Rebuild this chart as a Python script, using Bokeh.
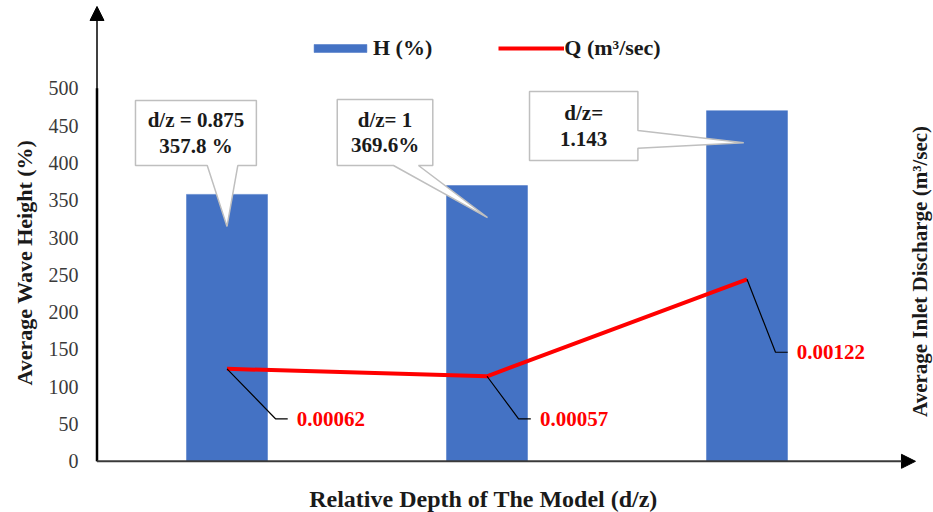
import numpy as np
from bokeh.plotting import figure
from bokeh.models import (Range1d, FixedTicker, Arrow, NormalHead, Legend,
                          LegendItem, ColumnDataSource, Title)
from bokeh.core.properties import value
from bokeh.embed import file_html
from bokeh.resources import INLINE

# ---------------- data ----------------
dz_labels = ["0.875", "1", "1.143"]            # relative depth d/z
wave_height = [357.8, 369.6, 470.0]            # H (%)
discharge = [0.00062, 0.00057, 0.00122]        # Q (m3/sec)
h_ticks = [0, 50, 100, 150, 200, 250, 300, 350, 400, 450, 500]
h_max = 500          # top tick of the wave-height axis
q_max = 0.0025       # discharge value aligned with h_max on the secondary scale

# ---------------- style ----------------
FONT = "Liberation Serif"
BLUE = "#4472C4"
RED = "#FF0000"
TEXT = "#1a1a1a"

x = list(range(len(dz_labels)))
q_scale = q_max / h_max

y_start, y_end = -68.63, 617.7
p = figure(width=933, height=512, output_backend="svg", toolbar_location=None,
           x_range=Range1d(-0.5327, 2.7173), y_range=Range1d(y_start, y_end),
           x_axis_location=None,
           min_border_left=88, min_border_right=0, min_border_top=0,
           min_border_bottom=0)
p.extra_y_ranges = {"q": Range1d(y_start * q_scale, y_end * q_scale)}
p.outline_line_color = None
p.grid.visible = False
p.background_fill_color = "white"

# left axis: tick labels only
yax = p.yaxis[0]
yax.ticker = FixedTicker(ticks=h_ticks)
yax.axis_line_color = None
yax.major_tick_line_color = None
yax.minor_tick_line_color = None
yax.major_tick_out = 0
yax.major_label_standoff = 10
yax.major_label_text_font = FONT
yax.major_label_text_font_size = "20px"
yax.major_label_text_color = "#3a3a3a"

# primary axis title
p.add_layout(Title(text="Average Wave Height (%)", align="left", offset=127,
                   text_font=FONT, text_font_style="bold",
                   text_font_size="22px", text_color=TEXT, standoff=17), "left")

# bars and discharge line
src = ColumnDataSource(dict(x=x, h=wave_height, q=discharge))
r_bar = p.vbar(x="x", top="h", bottom=0, width=0.3115, source=src,
               fill_color=BLUE, line_color=BLUE, line_width=0.5)
r_line = p.line(x="x", y="q", source=src, y_range_name="q",
                line_color=RED, line_width=4, line_join="round")

# leader lines and value labels for the discharge points
elbow_dx = [0.1865, 0.1215, 0.1096]
elbow_q = [0.000285, 0.000285, 0.000731]
lead_xs, lead_ys, lab_x = [], [], []
for i, q in enumerate(discharge):
    ex = x[i] + elbow_dx[i]
    lead_xs.append([x[i], ex, ex + 0.047])
    lead_ys.append([q, elbow_q[i], elbow_q[i]])
    lab_x.append(ex + 0.082)
p.multi_line(xs=lead_xs, ys=lead_ys, y_range_name="q",
             line_color="black", line_width=1.2)
p.text(x=lab_x, y=elbow_q, text=[f"{q:.5f}" for q in discharge],
       y_range_name="q", text_align="left", text_baseline="middle",
       text_font=value(FONT), text_font_style="bold", text_font_size="21px",
       text_color=RED)

# callout boxes pointing into the bars
callout_text = [f"d/z = {dz_labels[0]}\n{wave_height[0]} %",
                f"d/z= {dz_labels[1]}\n{wave_height[1]}%",
                f"d/z=\n{dz_labels[2]}"]
# (left, right, bottom, top) relative to the bar, pointer side and base, tip shift
boxes = [((-0.352, 0.113, 396.5, 483.6), "bottom", (-0.076, 0.0415), 0.0),
         ((-0.576, -0.2085, 396.5, 485.0), "bottom", (-0.3596, -0.2635), 0.002),
         ((-0.8365, -0.4196, 403.2, 495.7), "right", (419.7, 443.4), -0.0124)]
tip_depth = 43
pxs, pys, tx, ty = [], [], [], []
for i, (box, side, base, tip_dx) in enumerate(boxes):
    l, r, b, t = box
    l += x[i]; r += x[i]
    tipx, tipy = x[i] + tip_dx, wave_height[i] - tip_depth
    if side == "bottom":
        b0, b1 = base[0] + x[i], base[1] + x[i]
        xs_ = [l, r, r, b1, tipx, b0, l]
        ys_ = [t, t, b, b, tipy, b, b]
    else:
        b0, b1 = base
        xs_ = [l, r, r, tipx, r, r, l]
        ys_ = [t, t, b1, tipy, b0, b, b]
    pxs.append(xs_); pys.append(ys_)
    tx.append((l + r) / 2); ty.append((b + t) / 2)
p.patches(xs=pxs, ys=pys, fill_color="white", line_color="#bfbfbf",
          line_width=1.5)
p.text(x=tx, y=ty, text=callout_text, text_align="center",
       text_baseline="middle", text_font=value(FONT), text_font_style="bold",
       text_font_size="21px", text_color=TEXT, text_line_height=1.05)

# category-axis and secondary-axis titles
p.text(x=[0.9865], y=[-51.2], text=["Relative Depth of The Model (d/z)"],
       text_align="center", text_baseline="middle", text_font=value(FONT),
       text_font_style="bold", text_font_size="24px", text_color=TEXT)
p.text(x=[2.667], y=[254.5], text=["Average Inlet Discharge (m³/sec)"],
       angle=np.pi / 2, text_align="center", text_baseline="middle",
       text_font=value(FONT), text_font_style="bold", text_font_size="21px",
       text_color=TEXT)

# axis lines with arrow heads
p.segment(x0=[-0.5], y0=[0], x1=[-0.5], y1=[h_max], line_color="black",
          line_width=2.5)
p.add_layout(Arrow(x_start=-0.5, y_start=0, x_end=-0.5, y_end=609.7,
                   line_color="black", line_width=1.5,
                   end=NormalHead(size=14, fill_color="black",
                                  line_color="black")))
p.add_layout(Arrow(x_start=-0.5, y_start=0, x_end=2.648, y_end=0,
                   line_color="#3a3a3a", line_width=2,
                   end=NormalHead(size=14, fill_color="black",
                                  line_color="black")))

legend = Legend(items=[LegendItem(label="H (%)", renderers=[r_bar]),
                       LegendItem(label="Q (m³/sec)", renderers=[r_line])],
                orientation="horizontal", location=(219, 451),
                glyph_width=66, glyph_height=10, label_standoff=0,
                spacing=66, padding=0, margin=0,
                border_line_color=None, background_fill_alpha=0,
                label_text_font=FONT, label_text_font_style="bold",
                label_text_font_size="22px", label_text_color=TEXT)
p.add_layout(legend)

open("out.html", "w").write(file_html(p, INLINE))
